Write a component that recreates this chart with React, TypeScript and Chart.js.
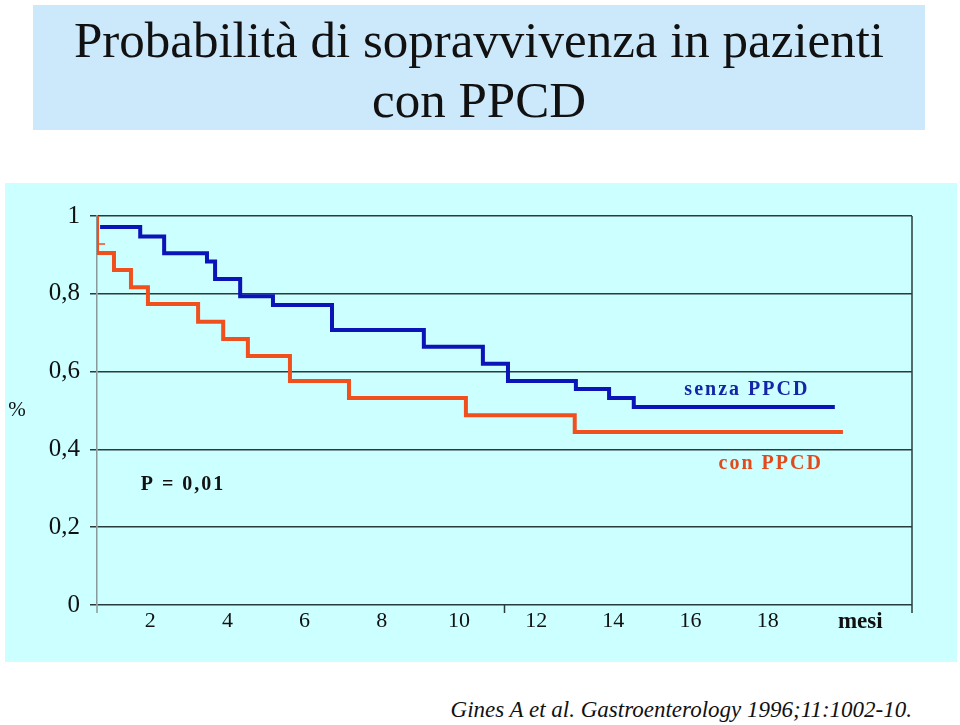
import React, { useEffect, useRef } from "react";
import { Chart, registerables } from "chart.js";

Chart.register(...registerables);

// ---------- data ----------
const titleLines = ["Probabilità di sopravvivenza in pazienti", "con PPCD"];
const caption = "Gines A et al. Gastroenterology 1996;11:1002-10.";

const yTickValues = [0, 0.2, 0.4, 0.6, 0.8, 1];
const yTickLabels = ["0", "0,2", "0,4", "0,6", "0,8", "1"];
const yTitle = "%";

const xTickValues = [2, 4, 6, 8, 10, 12, 14, 16, 18, 20.4];
const xTickLabels = ["2", "4", "6", "8", "10", "12", "14", "16", "18", "mesi"];
const xMin = 0.62;
const xMax = 21.74;

// senza PPCD (blue)
const senzaMonths = [0.7, 1.74, 2.36, 3.47, 3.68, 4.33, 5.18, 6.71, 9.09, 10.62, 11.27, 13.03, 13.89, 14.53, 19.74];
const senzaSurv = [0.972, 0.947, 0.904, 0.883, 0.838, 0.794, 0.771, 0.707, 0.664, 0.62, 0.576, 0.555, 0.532, 0.509, 0.509];

// con PPCD (orange)
const conMonths = [0.62, 0.62, 1.06, 1.5, 1.94, 3.24, 3.89, 4.53, 5.62, 7.15, 10.18, 13.0, 19.95];
const conSurv = [1.0, 0.905, 0.861, 0.817, 0.774, 0.728, 0.684, 0.64, 0.576, 0.532, 0.488, 0.445, 0.445];
const conCensorMonths = [0.62, 0.83];
const conCensorSurv = [0.928, 0.928];

const annotationTexts = ["P = 0,01", "senza PPCD", "con PPCD"];
const annotationMonths = [2.85, 17.46, 18.08];
const annotationSurv = [0.308, 0.553, 0.362];
const annotationColors = ["#111111", "#1426a8", "#e24a1c"];

const SERIF = "'Liberation Serif', 'Times New Roman', serif";
const BLUE = "#0a14b8";
const ORANGE = "#f0501e";

const extrasPlugin = {
  id: "extras",
  afterDatasetsDraw(chart: any) {
    const { ctx, chartArea, scales } = chart;
    const x = scales.x;
    const y = scales.y;
    ctx.save();
    // bottom tick marks and right border
    ctx.lineWidth = 1.5;
    ctx.strokeStyle = "#8a9a9a";
    const xl = x.getPixelForValue(x.min);
    ctx.beginPath();
    ctx.moveTo(xl, chartArea.bottom);
    ctx.lineTo(xl, chartArea.bottom + 8);
    ctx.stroke();
    ctx.strokeStyle = "#2b3b3b";
    const xm = x.getPixelForValue((x.min + x.max) / 2);
    ctx.beginPath();
    ctx.moveTo(xm, chartArea.bottom);
    ctx.lineTo(xm, chartArea.bottom + 8);
    ctx.stroke();
    const xr = x.getPixelForValue(x.max);
    ctx.beginPath();
    ctx.moveTo(xr, chartArea.top);
    ctx.lineTo(xr, chartArea.bottom + 8);
    ctx.stroke();

    // y title
    ctx.fillStyle = "#111";
    ctx.font = `21px ${SERIF}`;
    ctx.textAlign = "center";
    ctx.textBaseline = "middle";
    ctx.fillText(yTitle, y.left + 12, y.getPixelForValue(0.5));

    // annotations
    ctx.font = `bold 20px ${SERIF}`;
    (ctx as any).letterSpacing = "2px";
    annotationTexts.forEach((t, i) => {
      ctx.fillStyle = annotationColors[i];
      ctx.fillText(t, x.getPixelForValue(annotationMonths[i]), y.getPixelForValue(annotationSurv[i]));
    });
    ctx.restore();
  },
};

export default function App() {
  const canvasRef = useRef<HTMLCanvasElement | null>(null);

  useEffect(() => {
    if (!canvasRef.current) return;
    const chart = new Chart(canvasRef.current, {
      type: "line",
      data: {
        datasets: [
          {
            label: "senza PPCD",
            data: senzaMonths.map((m, i) => ({ x: m, y: senzaSurv[i] })),
            borderColor: BLUE,
            borderWidth: 4,
            stepped: "before",
            pointRadius: 0,
            fill: false,
            borderJoinStyle: "miter",
          },
          {
            label: "con PPCD",
            data: conMonths.map((m, i) => ({ x: m, y: conSurv[i] })),
            borderColor: ORANGE,
            borderWidth: 4,
            stepped: "before",
            pointRadius: 0,
            fill: false,
            borderJoinStyle: "miter",
          },
          {
            label: "censor",
            data: conCensorMonths.map((m, i) => ({ x: m, y: conCensorSurv[i] })),
            borderColor: ORANGE,
            borderWidth: 1.5,
            pointRadius: 0,
            fill: false,
          },
        ],
      },
      options: {
        animation: false,
        responsive: false,
        layout: { padding: { top: 33, right: 45, left: 0, bottom: 0 } },
        plugins: { legend: { display: false }, tooltip: { enabled: false }, title: { display: false } },
        scales: {
          x: {
            type: "linear",
            min: xMin,
            max: xMax,
            afterBuildTicks: (s: any) => {
              s.ticks = xTickValues.map((v) => ({ value: v }));
            },
            afterFit: (s: any) => {
              s.height = 57;
            },
            grid: { display: false, drawTicks: false },
            border: { display: false },
            ticks: {
              autoSkip: false,
              maxRotation: 0,
              padding: 3,
              color: "#111",
              font: (c: any) =>
                c.index === xTickValues.length - 1
                  ? { family: SERIF, size: 23, weight: "bold" }
                  : { family: SERIF, size: 22 },
              callback: (_v: any, i: number) => xTickLabels[i],
            },
          },
          y: {
            type: "linear",
            min: 0,
            max: 1,
            afterBuildTicks: (s: any) => {
              s.ticks = yTickValues.map((v) => ({ value: v }));
            },
            afterFit: (s: any) => {
              s.width = 92;
            },
            grid: { color: "#2b3b3b", lineWidth: 1.5, tickLength: 7, tickColor: "#2b3b3b" },
            border: { display: true, color: "#8a9a9a", width: 1.5 },
            ticks: {
              padding: 10,
              color: "#111",
              font: { family: SERIF, size: 25 },
              callback: (_v: any, i: number) => yTickLabels[i],
            },
          },
        },
      },
      plugins: [extrasPlugin],
    } as any);
    return () => chart.destroy();
  }, []);

  return (
    <div style={{ position: "absolute", left: 0, top: 0, width: 960, height: 725, background: "#ffffff", fontFamily: SERIF }}>
      <div
        style={{
          position: "absolute",
          left: 33,
          top: 5,
          width: 892,
          height: 125,
          background: "#cce9fb",
          color: "#111",
          fontSize: 51,
          lineHeight: "60px",
          textAlign: "center",
          paddingTop: 5,
          boxSizing: "border-box",
        }}
      >
        {titleLines.map((l, i) => (
          <div key={i} style={{ whiteSpace: "nowrap" }}>{l}</div>
        ))}
      </div>
      <div style={{ position: "absolute", left: 5, top: 183, width: 952, height: 479, background: "#ccffff" }}>
        <canvas ref={canvasRef} width={952} height={479} style={{ display: "block" }} />
      </div>
      <div
        style={{
          position: "absolute",
          right: 48,
          top: 697,
          fontStyle: "italic",
          fontSize: 23,
          color: "#111",
          whiteSpace: "nowrap",
        }}
      >
        {caption}
      </div>
    </div>
  );
}
